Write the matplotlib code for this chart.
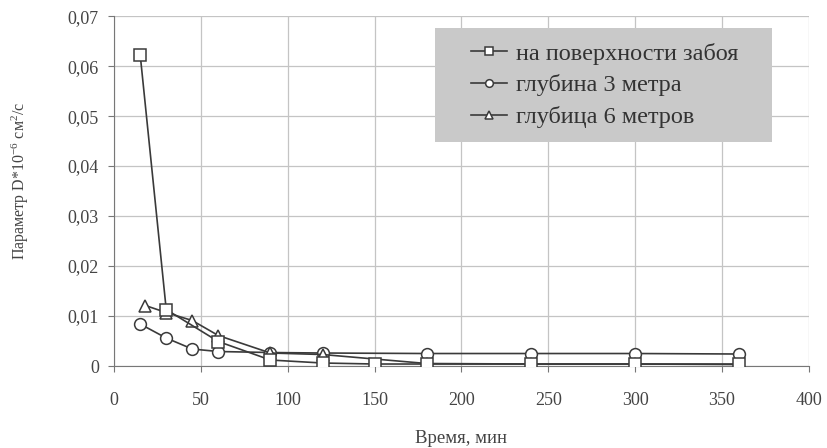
import matplotlib
matplotlib.use('Agg')
import matplotlib.pyplot as plt
from matplotlib.patches import Rectangle

plt.rcParams['font.family'] = ['Liberation Serif', 'DejaVu Serif']
plt.rcParams['mathtext.fontset'] = 'custom'
plt.rcParams['mathtext.rm'] = 'Liberation Serif'
plt.rcParams['mathtext.it'] = 'Liberation Serif'

# время, мин и параметр D для трёх глубин
t_surface = [15, 30, 60, 90, 120, 150, 180, 240, 300, 360]
d_surface = [0.0623, 0.0113, 0.0049, 0.0012, 0.0006, 0.0004, 0.0004, 0.0004, 0.0004, 0.0004]

t_3m = [15, 30, 45, 60, 90, 120, 180, 240, 300, 360]
d_3m = [0.0084, 0.0056, 0.0034, 0.0029, 0.0027, 0.0026, 0.0025, 0.0025, 0.0025, 0.0024]

t_6m = [18, 30, 45, 60, 90, 120, 180, 240, 300, 360]
d_6m = [0.0121, 0.0107, 0.0091, 0.0061, 0.0026, 0.0023, 0.0005, 0.0004, 0.0004, 0.0003]

labels = ['на поверхности забоя', 'глубина 3 метра', 'глубица 6 метров']
x_ticks = [0, 50, 100, 150, 200, 250, 300, 350, 400]
y_ticks = [0, 0.01, 0.02, 0.03, 0.04, 0.05, 0.06, 0.07]

txt = '#444444'
line = '#3a3a3a'

fig = plt.figure(figsize=(8.27, 4.48), dpi=100)
ax = fig.add_axes([0.138, 0.183, 0.840, 0.781])

style = dict(color=line, lw=1.2, markerfacecolor='white', markeredgecolor=line, markeredgewidth=1.1)
ax.plot(t_3m, d_3m, marker='o', ms=8.5, label=labels[1], zorder=3, **style)
ax.plot(t_6m, d_6m, marker='^', ms=9, label=labels[2], zorder=4, **style)
ax.plot(t_surface, d_surface, marker='s', ms=9, label=labels[0], zorder=5, **style)

ax.set_xlim(0, 400)
ax.set_ylim(0, 0.07)
ax.set_xticks(x_ticks)
ax.set_yticks(y_ticks)
ax.set_yticklabels(['0'] + [f'{v:.2f}'.replace('.', ',') for v in y_ticks[1:]])
ax.grid(True, color='#c4c4c4', lw=0.9)
ax.set_axisbelow(True)

for side in ['top', 'right']:
    ax.spines[side].set_visible(False)
for side in ['left', 'bottom']:
    ax.spines[side].set_color('#777777')
ax.tick_params(colors='#777777', labelcolor=txt, labelsize=13, length=4)
ax.tick_params(axis='x', pad=15)
ax.tick_params(axis='y', pad=7)

ax.set_xlabel('Время, мин', fontsize=13.5, color=txt, labelpad=15)
ax.set_ylabel('Параметр D*10$^{-6}$ см$^{2}$/с', fontsize=11.5, color=txt)
ax.yaxis.set_label_coords(-0.119, 0.53)

# серая подложка легенды
ax.add_patch(Rectangle((0.462, 0.64), 0.485, 0.326, transform=ax.transAxes,
                       facecolor='#c9c9c9', edgecolor='none', zorder=6))

handles, names = ax.get_legend_handles_labels()
order = [2, 0, 1]
leg = ax.legend([handles[i] for i in order], [names[i] for i in order],
                loc='upper left', bbox_to_anchor=(0.503, 0.945), borderaxespad=0,
                fontsize=17.5, frameon=False, handlelength=1.5, handletextpad=0.35,
                labelspacing=0.4, borderpad=0.3, markerscale=0.65)
leg.set_zorder(7)
for t in leg.get_texts():
    t.set_color('#333333')

fig.savefig('out.png', dpi=100, facecolor='white')
